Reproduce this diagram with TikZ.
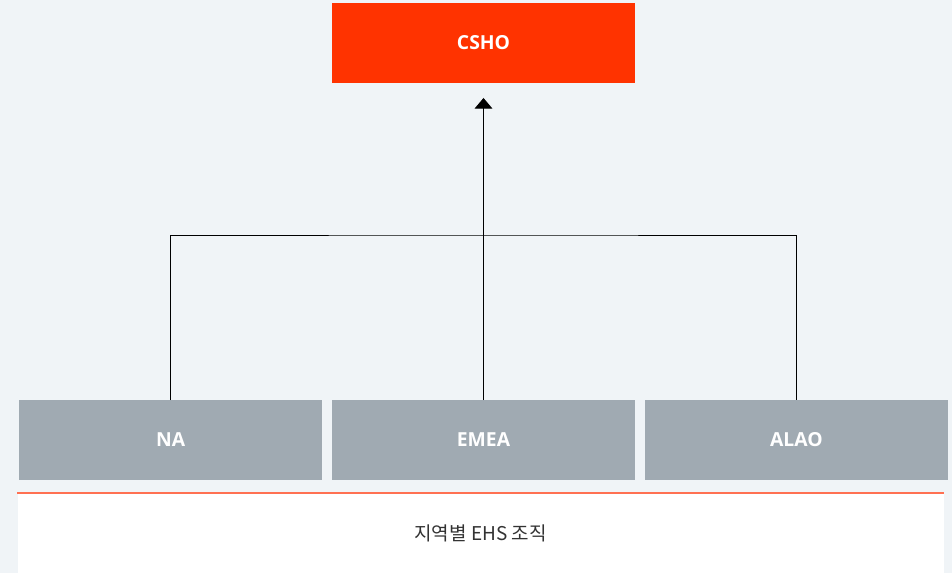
\documentclass[tikz,border=0pt]{standalone}
\usepackage{fontspec}
\setmainfont{Open Sans}
\newfontfamily\korfont{Noto Sans CJK KR}
\usetikzlibrary{arrows.meta, calc, positioning}
\definecolor{pagebg}{HTML}{F0F4F7}
\definecolor{headred}{HTML}{FF3300}
\definecolor{regiongray}{HTML}{A0AAB2}
\definecolor{lineorange}{HTML}{FF7052}
\definecolor{captiongray}{HTML}{333333}
\tikzset{orgbox/.style={minimum width=6.06cm,minimum height=1.6cm,inner sep=1mm,outer sep=0pt,text=white,font=\fontsize{11}{13}\selectfont\bfseries}}
\tikzset{headbox/.style={orgbox,fill=headred}}
\tikzset{regionbox/.style={orgbox,fill=regiongray}}
\tikzset{link/.style={draw=black,line width=0.55pt}}

\begin{document}
\begin{tikzpicture}[x=0.02cm,y=-0.02cm,>={Triangle[width=10pt,length=6pt]}]
                    \fill[pagebg] (0,0) rectangle (952,573);
                    \useasboundingbox (0,0) rectangle (952,573);

                    \node[headbox](CSHO) at (483.5,43){CSHO};
                    \node[regionbox](EMEA) at (483.5,440){EMEA};
                    \node[regionbox](NA)[left=0.2cm of EMEA]{NA};
                    \node[regionbox](ALAO)[right=0.2cm of EMEA]{ALAO};

                    \coordinate (bus) at (483.5,235);
                    \path[link] (NA.north) |- (bus) -| (ALAO.north);
                    \path[link,->,shorten >=0.3cm] (EMEA.north) -- (CSHO.south);

                    \fill[white] (18,494) rectangle (944,573);
                    \draw[lineorange,line width=1.2pt] (17,493) coordinate (rule west) -- (944,493) coordinate (rule east);
                    \node[text=captiongray,font=\korfont\fontsize{10.8}{12}\selectfont](caption) at ($(rule west)!0.5!(rule east)+(0,40)$){지역별 EHS 조직};

                \end{tikzpicture}
\end{document}
